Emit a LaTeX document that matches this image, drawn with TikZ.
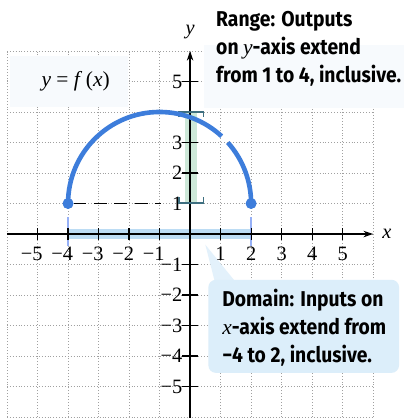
\documentclass[tikz,border=0pt]{standalone}
\usepackage{fontspec}
\setmainfont{Liberation Serif}
\newfontfamily\callfont[FakeStretch=0.9]{Fira Sans}
\usetikzlibrary{arrows.meta}
\definecolor{curveblue}{HTML}{3D7DDB}
\definecolor{boxblue}{HTML}{DCEEFA}
\definecolor{bandblue}{HTML}{BCDCF4}
\definecolor{rangegreen}{HTML}{CDE8D8}
\definecolor{bracketteal}{HTML}{3E6F80}
\definecolor{gridgray}{HTML}{A0A0A0}
\definecolor{paleback}{HTML}{F7FAFD}
\tikzset{
  gridline/.style={gridgray, dotted, line width=0.7pt},
  axisline/.style={black, line width=1.1pt},
  tickline/.style={black, line width=1.1pt},
  curveline/.style={curveblue, line width=4.3pt},
  endpt/.style={circle, fill=curveblue, inner sep=0pt, minimum size=10pt},
  numlabel/.style={font=\fontsize{19}{22}\selectfont, inner sep=0pt},
  calltext/.style={font=\callfont\bfseries\fontsize{20}{26}\selectfont, align=left, inner sep=0pt},
}
\begin{document}
\begin{tikzpicture}[x=1cm,y=1cm]
\useasboundingbox (-6.23,-6.03) rectangle (7.02,7.67);
\fill[white] (-6.23,-6.03) rectangle (7.02,7.67);
% grid
\draw[gridline] (-6,-6) grid (6,6);
\draw[gridline] (-6,-6.03) -- (-6,-6);
% pale boxes covering grid
\fill[paleback] (0.45,4.12) rectangle (7.02,7.67);
\fill[white] (0.3,6.2) rectangle (7.02,7.67);
\fill[paleback] (-5.9,4.15) rectangle (-2.05,5.85);
% domain callout
\fill[boxblue!80] (0.5,-0.35) -- (0.8,-1.52) -- (1.45,-1.52) -- cycle;
\fill[boxblue, rounded corners=7pt] (0.6,-1.5) rectangle (6.85,-4.55);
% range highlight
\fill[rangegreen] (-0.17,1.03) rectangle (0.23,4.0);
% domain highlight
\fill[bandblue] (-4,-0.15) rectangle (2,0.17);
\draw[bandblue!80!blue, line width=1.3pt] (-4,-0.4) -- (-4,0.55);
\draw[bandblue!80!blue, line width=1.3pt] (2,-0.4) -- (2,0.55);
% axes
\coordinate (xl) at (-6,0);
\coordinate (xr) at (6,0);
\coordinate (yb) at (0,-6.05);
\coordinate (yt) at (0,6);
\draw[axisline, -{Stealth[length=9pt,width=6pt]}] (xl) -- (xr);
\draw[axisline, -{Stealth[length=9pt,width=6pt]}] (yb) -- (yt);
\node[font=\itshape\fontsize{19}{22}\selectfont] (xlab) at (6.45,0.02) {x};
\node[font=\itshape\fontsize{19}{22}\selectfont] (ylab) at (0,6.62) {y};
% ticks
\foreach \k in {-5,-4,-3,-2,-1,1,2,3,4,5} {
  \draw[tickline] (\k,-0.2) -- (\k,0.2);
  \draw[tickline] (-0.25,\k) -- (0.25,\k);
}
% x labels
\foreach \k in {1,2,3,4,5} {
  \node[numlabel] at (\k,-0.64) {\k};
  \node[numlabel] at (-\k,-0.64) {\llap{−}\k};
}
% y labels
\foreach \k in {5,3,2,1} {
  \node[numlabel, anchor=east] at (-0.25,\k) {\k};
}
\foreach \k in {1,2,3,4,5} {
  \node[numlabel, anchor=east] at (-0.25,-\k) {−\k};
}
% range brackets
\draw[bracketteal, line width=1.2pt] (-0.36,3.83) -- (-0.36,4.0) -- (0.43,4.0) -- (0.43,3.83);
\draw[bracketteal, line width=1.2pt] (-0.36,1.2) -- (-0.36,1.02) -- (0.43,1.02) -- (0.43,1.2);
% dashed line
\node[endpt] (pa) at (-4,1) {};
\node[endpt] (pb) at (2,1) {};
\coordinate (dend) at (-0.95,1);
\draw[black, line width=1.7pt, dash pattern=on 12pt off 7pt] (pa.east) -- (dend);
% curve
\draw[curveline] (pa.center) arc[start angle=180, end angle=47.3, radius=3];
\draw[curveline] (pb.center) arc[start angle=0, end angle=41.8, radius=3];
\node[endpt] at (pa) {};
\node[endpt] at (pb) {};
% labels
\node[font=\fontsize{20}{22}\selectfont] (fx) at (-3.75,5.0) {\textit{y} = \textit{f}\,(\textit{x})};
\node[calltext, anchor=north west] (rng) at (0.85,7.3) {Range: Outputs\\on {\rmfamily\mdseries\itshape y}-axis extend\\from 1 to 4, inclusive.};
\node[calltext, anchor=north west] (dom) at (1.05,-1.8) {Domain: Inputs on\\{\rmfamily\mdseries\itshape x}-axis extend from\\−4 to 2, inclusive.};
\end{tikzpicture}
\end{document}
